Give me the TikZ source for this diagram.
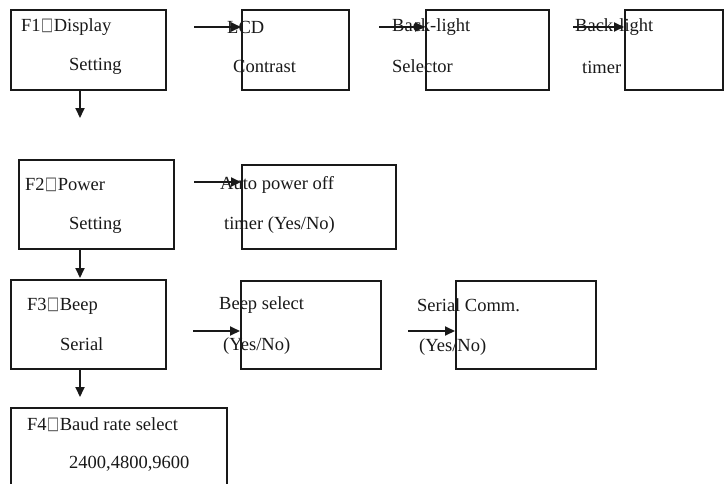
\documentclass[tikz,border=0pt]{standalone}
\usepackage{fontspec}
\setmainfont{Liberation Serif}
\newfontfamily\symfont{DejaVu Sans}
\usetikzlibrary{arrows.meta}
\newcommand{\tofu}{\hspace{0.5pt}\raisebox{1pt}{\scalebox{0.75}[1.05]{\symfont\fontsize{17}{17}\selectfont\color{black!70}□}}\hspace{0.5pt}}
\begin{document}
\begin{tikzpicture}[x=1pt,y=-1pt,
  box/.style={draw=black!90,line width=2.4pt,rectangle,inner sep=0pt,anchor=north west},
  lbl/.style={anchor=west,inner sep=0pt,font=\fontsize{18.5}{20}\selectfont,text=black!90},
  arr/.style={draw=black!90,line width=1.8pt,-{Triangle[length=10pt,width=9pt]}}]
\useasboundingbox[fill=white] (0,0) rectangle (725,483);
% boxes
\node[box,minimum width=155pt,minimum height=80pt] (f1) at (10,9) {};
\node[box,minimum width=107pt,minimum height=80pt] (lcd) at (241,9) {};
\node[box,minimum width=123pt,minimum height=80pt] (bls) at (425,9) {};
\node[box,minimum width=98pt,minimum height=80pt] (blt) at (624,9) {};
\node[box,minimum width=155pt,minimum height=89pt] (f2) at (18,159) {};
\node[box,minimum width=154pt,minimum height=84pt] (apo) at (241,164) {};
\node[box,minimum width=155pt,minimum height=89pt] (f3) at (10,279) {};
\node[box,minimum width=140pt,minimum height=88pt] (beep) at (240,280) {};
\node[box,minimum width=140pt,minimum height=88pt] (ser) at (455,280) {};
\node[box,minimum width=216pt,minimum height=90pt] (f4) at (10,407) {};
% texts
\node[lbl] (t1a) at (21,27) {F1\tofu Display};
\node[lbl] (t1b) at (69,66) {Setting};
\node[lbl] (t2a) at (227,27) {LCD};
\node[lbl] (t2b) at (233,66) {Contrast};
\node[lbl] (t3a) at (392,27) {Back-light};
\node[lbl] (t3b) at (392,66) {Selector};
\node[lbl] (t4a) at (575,27) {Back-light};
\node[lbl] (t4b) at (582,67) {timer};
\node[lbl] (t5a) at (25,185) {F2\tofu Power};
\node[lbl] (t5b) at (69,225) {Setting};
\node[lbl] (t6a) at (220,185) {Auto power off};
\node[lbl] (t6b) at (224,225) {timer (Yes/No)};
\node[lbl] (t7a) at (27,306) {F3\tofu Beep};
\node[lbl] (t7b) at (60,344) {Serial};
\node[lbl] (t8a) at (219,305) {Beep select};
\node[lbl] (t8b) at (223,346) {(Yes/No)};
\node[lbl] (t9a) at (417,305) {Serial Comm.};
\node[lbl] (t9b) at (419,347) {(Yes/No)};
\node[lbl] (t10a) at (27,425) {F4\tofu Baud rate select};
\node[lbl] (t10b) at (69,464) {2400,4800,9600};
% connector free ends
\coordinate (h1) at (194,27);
\coordinate (h2) at (379,27);
\coordinate (h3) at (573,27);
\coordinate (h4) at (194,182);
\coordinate (h5) at (193,331);
\coordinate (h6) at (408,331);
\coordinate (v1) at (80,118);
\coordinate (v2) at (80,278);
\coordinate (v3) at (80,397);
% connectors
\draw[arr] (h1) -- (h1 -| lcd.west);
\draw[arr] (h2) -- (h2 -| bls.west);
\draw[arr] (h3) -- (h3 -| blt.west);
\draw[arr] (h4) -- (h4 -| apo.west);
\draw[arr] (h5) -- (h5 -| beep.west);
\draw[arr] (h6) -- (h6 -| ser.west);
\draw[arr] (f1.south -| v1) -- (v1);
\draw[arr] (f2.south -| v2) -- (v2);
\draw[arr] (f3.south -| v3) -- (v3);
\end{tikzpicture}
\end{document}
